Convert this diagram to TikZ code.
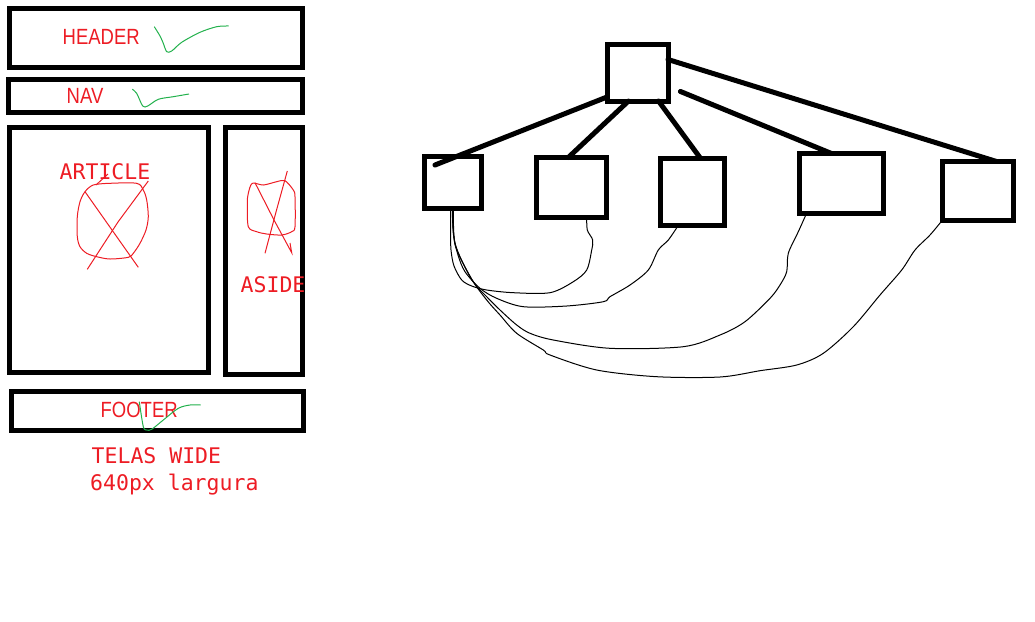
\documentclass[tikz,border=0pt]{standalone}
\usepackage{fontspec}
\newfontfamily\paintfont[FakeStretch=0.84]{Liberation Sans}
\newfontfamily\monofont{DejaVu Sans Mono}
\definecolor{paintred}{RGB}{237,28,36}
\definecolor{paintgreen}{RGB}{34,177,76}

\begin{document}
\begin{tikzpicture}[
    x=1pt, y=-1pt,
    area/.style={rectangle, draw, line width=5pt, outer sep=0pt, inner sep=0pt},
    item/.style={rectangle, draw, line width=5pt, outer sep=0pt, inner sep=0pt},
    link/.style={line width=5pt, line cap=round},
    wire/.style={line width=1pt},
    areaname/.style={anchor=base west, inner sep=0pt, text=paintred, font=\paintfont\fontsize{22}{26}\selectfont},
    codename/.style={anchor=base west, inner sep=0pt, text=paintred, font=\monofont\fontsize{21.5}{26}\selectfont},
    tick/.style={paintgreen, line width=1pt},
    scratch/.style={paintred, line width=1pt},
]
\useasboundingbox (0,0) rectangle (1035,621);

\node[area, minimum width=293, minimum height=59] (header) at (156,38) {};
\node[area, minimum width=294, minimum height=33] (nav) at (155.5,96) {};
\node[area, minimum width=199, minimum height=245] (article) at (109,250) {};
\node[area, minimum width=77, minimum height=247] (aside) at (264,251) {};
\node[area, minimum width=292, minimum height=39] (footer) at (157.5,411) {};

\node[areaname] (headertxt) at (62.5,44) {HEADER};
\node[areaname] (navtxt) at (66.5,103) {NAV};
\node[areaname] (footertxt) at (100.5,417) {FOOTER};
\node[codename] (articletxt) at (59.5,179) {ARTICLE};
\node[codename] (asidetxt) at (240.5,292) {ASIDE};
\node[codename] (telas) at (91.5,463) {TELAS WIDE};
\node[codename] (largura) at (90,490) {640px largura};

\draw[tick] plot[smooth] coordinates {(154.3,26.7) (160,36) (163.3,43.3) (166.7,51.7) (171.7,51) (181.7,42.3) (200,32.3) (216.7,26.7) (228.7,26)};
\draw[tick] plot[smooth] coordinates {(132.3,89.3) (136.7,93.3) (142.7,106) (147.7,106) (158.3,99.3) (173.3,96.7) (189,94)};
\draw[tick] plot[smooth] coordinates {(139.3,401.7) (143.3,426.7) (146.7,430) (151.7,429.3) (163.3,420) (178.3,408.3) (190,405) (200.7,405)};

\draw[scratch] plot[smooth cycle] coordinates {(93.3,185) (110,183.3) (136.7,183.3) (143.3,190) (146.7,200) (148.3,216.7) (146,230) (140,243.3) (133.3,253.3) (128.3,257.3) (110,259) (96.7,256.7) (86.7,253.3) (80,246.7) (77.3,236.7) (77.3,216.7) (80,201.7) (85,191.7)};
\draw[scratch] (148.3,181) -- (118,222) -- (87.3,269.3);
\draw[scratch] (85,191.7) -- (112,230) -- (138.3,267.3);
\draw[scratch] (96,185) -- (108,174);
\draw[scratch] plot[smooth cycle] coordinates {(252.3,183.3) (263.3,185) (276.7,181.7) (285,180.7) (293.3,190) (295,196.7) (295,226.7) (291.7,231.7) (281.7,235) (266.7,234) (256.7,231.7) (248.3,226.7) (247.3,203.3) (248.3,193.3)};
\draw[scratch] (287.3,171) -- (276,212) -- (265,253.3);
\draw[scratch] (255,182.7) -- (274,220) -- (291.7,252.7) -- (290,243);

\node[item, minimum width=61, minimum height=57] (root) at (637.5,72.5) {};
\node[item, minimum width=56.5, minimum height=52] (pageA) at (452.75,182.5) {};
\node[item, minimum width=70.5, minimum height=59.5] (pageB) at (571.25,187.25) {};
\node[item, minimum width=64.5, minimum height=67.5] (pageC) at (692.25,191.75) {};
\node[item, minimum width=84, minimum height=60] (pageD) at (841.5,183.5) {};
\node[item, minimum width=71, minimum height=58.5] (pageE) at (978,190.75) {};
\coordinate (linkstart) at (680.5,91.5);

\draw[link] ([yshift=4]root.south west) -- ([xshift=10.5,yshift=-8.5]pageA.north west);
\draw[link] ([xshift=-9]root.south) -- ([xshift=-3]pageB.north);
\draw[link] ([xshift=21]root.south) -- ([xshift=8]pageC.north);
\draw[link] (linkstart) -- ([xshift=-10]pageD.north);
\draw[link] ([yshift=13]root.east) -- ([xshift=18.5]pageE.north);

\draw[wire] plot[smooth] coordinates {([xshift=-2]pageA.south) (450.5,230) (451,250) (454,266) (461.7,280) (471.7,286) (486.7,290) (513.3,292.7) (550,292.7) (573.3,281.7) (586.7,270) (591.7,250) (592.7,240) (587.3,230) ([xshift=15.5]pageB.south)};
\draw[wire] plot[smooth] coordinates {(pageA.south) (453.3,233.3) (458,255) (465,271.7) (480,288.3) (496.7,298.3) (523.3,306.7) (566.7,306) (603.3,301.7) (610,296.7) (630,285) (648.3,270) (658.3,250) (668.3,240) ([xshift=-14]pageC.south)};
\draw[wire] plot[smooth] coordinates {([xshift=0.5]pageA.south) (453.8,233.3) (456.7,250) (473.3,281.7) (486.7,296.7) (500,310) (516.7,325) (530,333.3) (553.3,340) (610,348.3) (683.3,346.7) (720,335) (745,321.7) (770,298.3) (780,285) (786.7,271.7) (788.3,253.3) (798.3,231.7) ([xshift=-35]pageD.south)};
\draw[wire] plot[smooth] coordinates {([xshift=-0.5]pageA.south) (455,243.3) (470,276.7) (486.7,300) (500,315) (516.7,333.3) (543.3,350) (550,355) (596.7,370) (656.7,376.7) (720,377) (760,370.7) (796.7,365) (823.3,353.3) (853.3,326.7) (880,295) (901.7,270) (915,250) (930,235) (pageE.south west)};

\end{tikzpicture}
\end{document}
